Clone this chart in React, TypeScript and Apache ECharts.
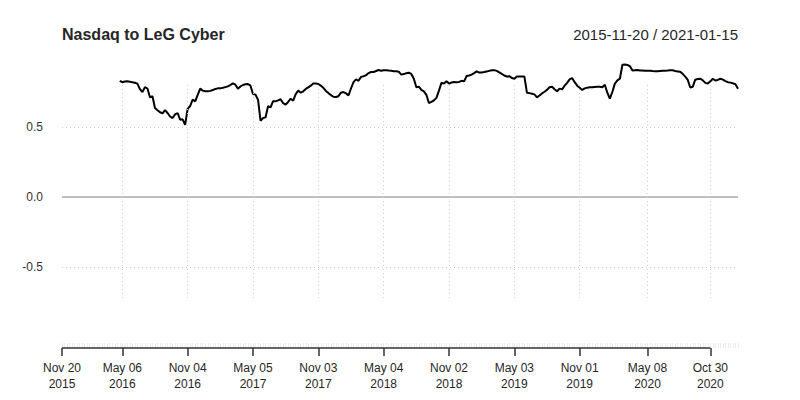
import { useEffect, useRef } from 'react'
import * as echarts from 'echarts'

const TITLE = 'Nasdaq to LeG Cyber'
const PERIOD = '2015-11-20 / 2021-01-15'
const START_DATE = '2015-11-20'
const END_DATE = '2021-01-15'
const FIRST_VALUE_DATE = '2016-04-29'
const TICK_DATES = [
  '2015-11-20', '2016-05-06', '2016-11-04', '2017-05-05', '2017-11-03', '2018-05-04',
  '2018-11-02', '2019-05-03', '2019-11-01', '2020-05-08', '2020-10-30',
]
const Y_LABELS = [-0.5, 0, 0.5]
const MONTHS = ['Jan', 'Feb', 'Mar', 'Apr', 'May', 'Jun', 'Jul', 'Aug', 'Sep', 'Oct', 'Nov', 'Dec']

// weekly rolling correlation, one value per Friday from FIRST_VALUE_DATE
const CORRELATION = [
  0.83, 0.82, 0.825, 0.826, 0.823, 0.82, 0.816, 0.81, 0.77, 0.75,
  0.785, 0.775, 0.712, 0.72, 0.636, 0.62, 0.605, 0.598, 0.62, 0.6,
  0.575, 0.564, 0.59, 0.6, 0.552, 0.555, 0.516, 0.63, 0.65, 0.695,
  0.683, 0.73, 0.774, 0.76, 0.755, 0.755, 0.758, 0.764, 0.772, 0.776,
  0.776, 0.78, 0.785, 0.79, 0.8, 0.812, 0.802, 0.774, 0.79, 0.8,
  0.805, 0.807, 0.795, 0.736, 0.731, 0.695, 0.545, 0.564, 0.569, 0.648,
  0.64, 0.684, 0.684, 0.69, 0.698, 0.67, 0.66, 0.679, 0.702, 0.688,
  0.735, 0.76, 0.745, 0.755, 0.772, 0.783, 0.795, 0.81, 0.81, 0.807,
  0.795, 0.78, 0.758, 0.742, 0.728, 0.716, 0.714, 0.72, 0.745, 0.75,
  0.74, 0.726, 0.775, 0.82, 0.84, 0.83, 0.858, 0.862, 0.87, 0.885,
  0.893, 0.893, 0.9, 0.907, 0.902, 0.906, 0.906, 0.903, 0.901, 0.899,
  0.898, 0.895, 0.874, 0.878, 0.884, 0.888, 0.879, 0.845, 0.784, 0.788,
  0.765, 0.755, 0.73, 0.671, 0.679, 0.69, 0.708, 0.76, 0.816, 0.81,
  0.826, 0.81, 0.818, 0.821, 0.82, 0.822, 0.83, 0.826, 0.864, 0.868,
  0.874, 0.885, 0.897, 0.889, 0.89, 0.893, 0.897, 0.901, 0.905, 0.906,
  0.901, 0.89, 0.879, 0.868, 0.861, 0.863, 0.85, 0.845, 0.86, 0.86,
  0.86, 0.86, 0.745, 0.742, 0.738, 0.733, 0.712, 0.725, 0.74, 0.752,
  0.765, 0.784, 0.787, 0.77, 0.755, 0.774, 0.769, 0.795, 0.815, 0.84,
  0.85, 0.82, 0.795, 0.78, 0.764, 0.776, 0.781, 0.784, 0.784, 0.786,
  0.788, 0.788, 0.784, 0.802, 0.745, 0.702, 0.75, 0.81, 0.833, 0.845,
  0.945, 0.946, 0.943, 0.934, 0.903, 0.906, 0.907, 0.903, 0.903, 0.901,
  0.902, 0.902, 0.9, 0.899, 0.898, 0.9, 0.902, 0.902, 0.903, 0.906,
  0.905, 0.9, 0.897, 0.894, 0.88, 0.86, 0.837, 0.782, 0.788, 0.838,
  0.843, 0.845, 0.833, 0.815, 0.81, 0.826, 0.845, 0.832, 0.836, 0.845,
  0.838, 0.828, 0.82, 0.817, 0.812, 0.805, 0.774,
]

const WEEK = 7 * 24 * 3600 * 1000
const Y_MIN = -1.0786
const Y_MAX = 1.0
const FONT = 'Liberation Sans, Arial, sans-serif'

export default function App() {
  const ref = useRef<HTMLDivElement>(null)

  useEffect(() => {
    if (!ref.current) return
    const chart = echarts.init(ref.current, undefined, { renderer: 'svg' })

    const start = Date.parse(START_DATE)
    const end = Date.parse(END_DATE)
    const first = Date.parse(FIRST_VALUE_DATE)
    const ticks = TICK_DATES.map((d) => Date.parse(d))
    const weekly: number[] = []
    for (let t = start; t <= end; t += WEEK) weekly.push(t)

    const data = CORRELATION.map((v, i) => [first + i * WEEK, v])

    const dotted = { color: '#cfcfcf', type: [1, 3] as number[], width: 1 }

    chart.setOption({
      animation: false,
      backgroundColor: '#fff',
      textStyle: { fontFamily: FONT },
      title: [
        {
          text: TITLE,
          left: 62,
          top: 26,
          padding: 0,
          textStyle: { fontSize: 16, fontWeight: 'bold', color: '#262626', fontFamily: FONT },
        },
        {
          text: PERIOD,
          right: 62,
          top: 27,
          padding: 0,
          textStyle: { fontSize: 15, fontWeight: 'normal', color: '#262626', fontFamily: FONT },
        },
      ],
      grid: { left: 62, right: 62, top: 57, bottom: 52 },
      xAxis: [
        {
          type: 'value',
          min: start,
          max: end,
          position: 'bottom',
          axisLine: { show: false, onZero: false },
          splitLine: { show: false },
          axisTick: {
            show: true,
            customValues: ticks,
            length: 8,
            lineStyle: { color: '#333', width: 1.5 },
          },
          axisLabel: {
            customValues: ticks,
            margin: 12,
            fontSize: 12,
            lineHeight: 16,
            color: '#262626',
            hideOverlap: false,
            formatter: (v: number) => {
              const d = new Date(v)
              return `${MONTHS[d.getUTCMonth()]} ${String(d.getUTCDate()).padStart(2, '0')}\n${d.getUTCFullYear()}`
            },
          },
        },
        {
          type: 'value',
          min: start,
          max: end,
          position: 'bottom',
          axisLine: { show: false, onZero: false },
          splitLine: { show: false },
          axisLabel: { show: false },
          axisTick: {
            show: true,
            inside: true,
            customValues: weekly,
            length: 5,
            lineStyle: { color: '#ececec', width: 1 },
          },
        },
      ],
      yAxis: {
        type: 'value',
        min: Y_MIN,
        max: Y_MAX,
        axisLine: { show: false },
        axisTick: { show: false },
        splitLine: { show: false },
        axisLabel: {
          customValues: Y_LABELS,
          margin: 19,
          fontSize: 12,
          color: '#333',
          formatter: (v: number) => v.toFixed(1),
        },
      },
      series: [
        {
          type: 'line',
          silent: true,
          z: 1,
          clip: false,
          symbol: 'none',
          data: [
            [ticks[0], Y_MIN],
            [ticks[ticks.length - 1], Y_MIN],
          ],
          lineStyle: { color: '#333', width: 1.5 },
          markLine: {
            silent: true,
            symbol: 'none',
            label: { show: false },
            data: [
              { yAxis: 0.5, lineStyle: dotted },
              { yAxis: -0.5, lineStyle: dotted },
              { yAxis: 0, lineStyle: { color: '#a8a8a8', type: 'solid', width: 1.5 } },
              ...ticks.slice(1).map((t) => [
                { coord: [t, 0.8], lineStyle: dotted },
                { coord: [t, -0.72] },
              ]),
            ],
          },
        },
        {
          type: 'line',
          z: 3,
          symbol: 'none',
          data,
          lineStyle: { color: '#000', width: 2 },
        },
      ],
    })

    return () => chart.dispose()
  }, [])

  return <div ref={ref} style={{ width: 800, height: 400, margin: -8 }} />
}
